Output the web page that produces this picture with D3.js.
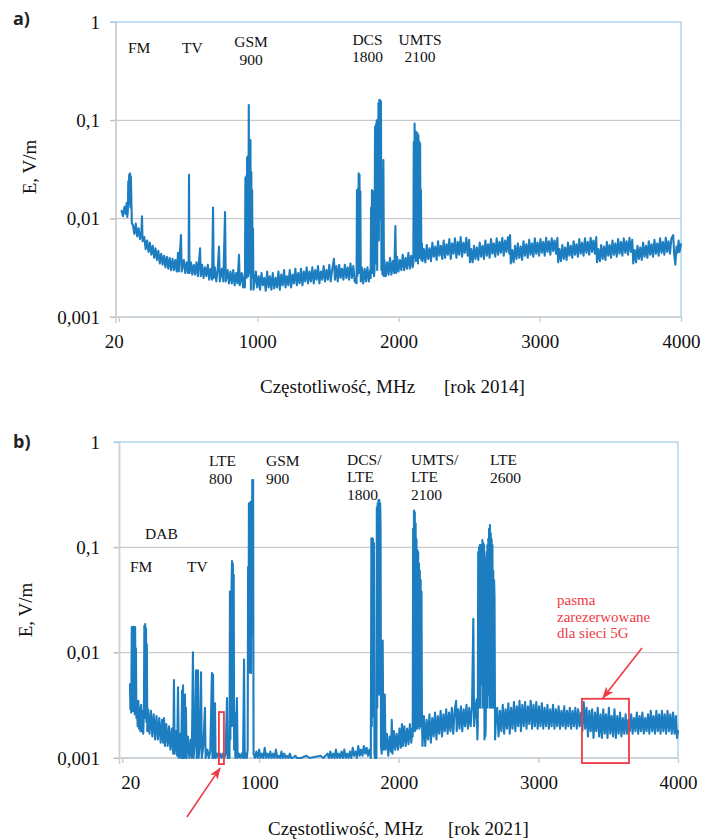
<!DOCTYPE html>
<html><head><meta charset="utf-8">
<script src="https://cdn.jsdelivr.net/npm/d3@7/dist/d3.min.js"></script>
<style>
body{margin:0;background:#fff;}
svg{display:block;}
</style></head><body>
<svg id="chart" width="712" height="840"></svg>
<script>
// ---------- data ----------
const xTicks = [20, 1000, 2000, 3000, 4000];
const yTicks = [0.001, 0.01, 0.1, 1];
const yTickLabels = ["0,001", "0,01", "0,1", "1"];
const xTitle = "Częstotliwość, MHz";
const yTitle = "E, V/m";
const yearLabels = ["[rok 2014]", "[rok 2021]"];
const panelLetters = ["a)", "b)"];
const bands2014 = [["FM"], ["TV"], ["GSM", "900"], ["DCS", "1800"], ["UMTS", "2100"]];
const bands2021 = [["FM"], ["DAB"], ["TV"], ["LTE", "800"], ["GSM", "900"], ["DCS/", "LTE", "1800"], ["UMTS/", "LTE", "2100"], ["LTE", "2600"]];
const note5G = ["pasma", "zarezerwowane", "dla sieci 5G"];
// annotation boxes: [f0, f1, E0, E1] (MHz, V/m)
const box5G = [3312, 3649, 0.000895, 0.00365];
const box700 = [712, 748, 0.000875, 0.00273];
// annotation arrows: [[f,E] start, [f,E] end]
const arrow5G = [[3742, 0.0111], [3462, 0.00371]];
const arrow700 = [[483, 0.000275], [720, 0.000802]];

// spectra: [frequency MHz, E in mV/m]
const spectrum2014 = [
[40,12.0],[50,10.6],[60,13.2],[70,11.2],[75,14.4],[80,10.4],[84,12],[87,24],[90,14],[93,28],[96,16],[99,29],[102,13],[105,27],[108,18],[112,9.0],
[120,8.6],[130,7.0],[140,8.9],[150,6.6],[160,8.0],[170,6.2],[180,7.5],[184,10.6],[188,5.9],
[200,6.5],[210,4.9],[220,6.0],[230,4.6],[240,5.7],[250,4.3],[260,5.3],[270,4.0],[280,5.0],[290,3.8],[300,4.7],[310,3.5],[320,4.4],[330,3.4],[340,4.2],[350,3.2],[360,4.1],[370,3.1],[380,4.0],[390,3.0],[400,3.9],[410,3.0],[420,3.8],[430,2.9],[439,4.5],[445,2.9],[460,6.8],[465,2.9],[480,3.8],[490,2.8],[500,3.6],[510,2.8],[514,3.5],[517,28],[520,2.8],[530,3.6],[540,2.7],[550,3.4],[560,2.7],[570,3.6],[580,2.6],[595,5.0],[600,2.6],[610,3.4],[620,2.5],[630,3.2],[640,2.6],[650,3.4],[660,2.4],[670,3.1],[680,2.4],[687,13],[692,2.5],[700,3.2],[710,2.3],[720,3.0],[729,5.2],[735,2.3],[750,3.1],[760,2.3],[772,11.7],[777,2.3],[790,3.0],[800,2.2],[810,2.9],[820,2.2],[830,3.0],[840,2.1],[850,2.8],[860,2.2],[871,4.3],[876,2.1],[890,2.8],[900,2.0],[910,2.7],
[913,2.0],[916,26],[919,3.0],[922,27],[925,2.5],[928,42],[931,3.5],[934,43],[937,2.6],[940,143],[943,4.0],[946,63],[949,2.8],[952,63],[955,1.9],[958,30],[961,3.0],[964,19.5],[967,2.5],[970,8],[973,1.9],
[980,2.2],[990,2.9],[1000,2.0],[1010,2.6],[1020,1.9],[1030,2.8],[1040,2.1],[1050,2.5],[1060,1.85],[1070,2.9],[1080,2.0],[1090,2.6],[1100,1.9],[1110,2.8],[1120,1.95],[1130,2.5],[1140,2.0],[1150,2.9],[1160,1.9],[1170,2.7],[1180,2.1],[1190,3.0],[1200,2.0],[1210,2.6],[1220,2.1],[1230,3.0],[1240,2.0],[1250,2.7],[1260,2.2],[1270,3.1],[1280,2.1],[1290,2.8],[1300,2.2],[1310,3.1],[1320,2.1],[1330,2.9],[1340,2.3],[1350,3.2],[1360,2.2],[1370,2.9],[1380,2.3],[1390,3.2],[1400,2.2],[1410,3.0],[1420,2.4],[1430,3.3],[1440,2.2],[1450,2.9],[1460,2.4],[1470,3.3],[1480,2.3],[1490,3.0],[1500,2.4],[1510,3.4],[1520,2.3],[1530,3.0],[1543,3.9],[1550,2.4],[1560,3.3],[1570,2.3],[1580,3.4],[1590,2.5],[1600,3.1],[1610,2.4],[1620,3.4],[1630,2.5],[1640,3.2],[1650,2.4],[1660,3.5],[1670,2.5],[1680,3.3],[1690,2.3],
[1703,2.2],[1706,19.5],[1709,2.6],[1712,20],[1715,3.0],[1718,29],[1721,2.8],[1724,28],[1727,3.5],[1730,19],[1733,2.3],
[1740,3.2],[1750,2.2],[1760,3.1],[1770,2.3],[1780,3.2],[1790,2.3],[1800,3.0],
[1803,2.5],[1806,13],[1809,3.0],[1812,19.5],[1815,2.8],[1818,19],[1821,4],[1824,12],[1827,2.6],[1830,3.0],
[1834,86],[1837,3.5],[1840,91],[1843,4.0],[1846,100],[1849,3.0],[1852,100],[1855,20],[1858,149],[1861,6],[1864,161],[1867,30],[1870,161],[1873,10],[1876,155],[1879,3.0],[1882,20],[1886,2.7],[1893,39.5],[1897,2.6],
[1900,3.8],[1910,2.6],[1920,3.6],[1930,2.7],[1940,4.0],[1950,2.7],[1960,3.7],[1970,2.8],[1978,8.4],[1983,2.8],[1990,4.1],[2000,2.9],[2010,3.8],[2020,3.0],[2030,4.3],[2040,3.0],[2050,4.0],[2060,3.1],[2070,4.5],[2080,3.1],[2090,4.2],[2100,3.2],
[2105,3.5],[2108,60],[2111,4],[2114,93],[2117,5],[2120,78],[2123,3.7],[2126,31],[2129,75],[2132,4],[2135,74],[2138,3.5],[2141,70],[2144,6],[2147,61],[2150,4],[2153,58],[2156,5],[2159,19.5],[2162,3.8],[2166,5.6],[2170,3.7],
[2180,4.9],[2190,3.6],[2200,5.4],[2210,3.9],[2220,5.0],[2230,3.7],[2240,5.7],[2250,4.1],[2260,5.2],[2270,3.8],[2280,5.9],[2290,4.2],[2300,5.3],[2310,3.9],[2320,6.0],[2330,4.0],[2340,5.5],[2350,4.3],[2360,6.2],[2370,3.9],[2380,5.6],[2390,4.4],[2400,6.3],[2410,4.0],[2420,5.8],[2430,4.3],[2440,6.5],[2450,4.1],[2460,5.7],[2470,4.5],[2480,6.4],[2490,4.2],[2500,6.1],
[2506,3.6],[2515,4.9],[2525,3.6],[2535,5.3],[2545,3.9],[2555,5.1],[2565,3.8],[2575,5.7],[2585,4.1],[2595,5.3],[2605,3.9],[2615,6.0],[2625,4.2],[2635,5.5],[2645,4.0],[2655,6.2],[2665,4.4],[2675,5.6],[2685,4.1],[2695,6.3],[2705,4.3],[2715,5.8],[2725,4.5],[2735,6.4],[2745,4.2],[2755,6.0],[2765,4.6],[2775,6.5],[2785,4.4],[2790,6.8],
[2795,3.5],[2805,4.8],[2815,3.6],[2825,5.3],[2835,3.9],[2845,5.6],[2855,4.0],[2865,5.2],[2875,3.8],[2885,5.9],[2895,4.2],[2905,5.5],[2915,4.0],[2925,6.1],[2935,4.3],[2945,5.6],[2955,4.1],[2965,6.3],[2975,4.4],[2985,5.7],[2995,4.2],[3005,6.2],[3015,4.5],[3025,5.8],[3035,4.2],[3045,6.4],[3055,4.6],[3065,5.9],[3075,4.3],[3085,6.3],[3095,4.7],[3105,6.0],[3115,4.4],[3125,6.4],
[3130,3.6],[3140,4.9],[3150,3.7],[3160,5.4],[3170,3.9],[3180,5.1],[3190,3.8],[3200,5.7],[3210,4.2],[3220,5.3],[3230,4.0],[3240,5.9],[3250,4.3],[3260,5.5],[3270,4.1],[3280,6.2],[3290,4.4],[3300,5.7],[3310,4.2],[3320,6.3],[3330,4.5],[3340,5.8],[3350,4.3],[3360,6.4],[3370,4.6],[3380,6.0],[3390,4.4],[3400,6.5],
[3405,3.6],[3415,4.9],[3425,3.7],[3435,5.4],[3445,3.9],[3455,5.2],[3465,3.8],[3475,5.8],[3485,4.2],[3495,5.4],[3505,4.0],[3515,6.0],[3525,4.3],[3535,5.6],[3545,4.1],[3555,6.2],[3565,4.4],[3575,5.8],[3585,4.2],[3595,6.3],[3605,4.5],[3615,5.9],[3625,4.3],[3635,6.4],[3645,4.6],[3655,6.1],
[3662,3.5],[3672,4.8],[3682,3.6],[3692,5.3],[3702,3.9],[3712,5.1],[3722,3.8],[3732,5.7],[3742,4.1],[3752,5.3],[3762,4.0],[3772,5.9],[3782,4.3],[3792,5.5],[3802,4.1],[3812,6.1],[3822,4.4],[3832,5.6],[3842,4.2],[3852,6.3],[3862,4.5],[3872,5.8],[3882,4.3],[3892,6.4],[3902,4.6],[3912,5.9],[3922,4.4],[3932,6.3],[3945,6.8],[3952,4.3],[3960,3.4],[3968,5.2],[3975,4.5],[3983,6.0],[3990,4.6],[4000,5.5]
];

const spectrum2021 = [
[75,5.0],[78,2.9],[81,4.2],[84,2.7],
[88,17.5],[91,3.0],[94,17.5],[97,2.8],[100,17.6],[103,3.2],[106,17.4],[109,2.6],[112,17.5],[115,3.5],[118,11],[121,2.4],
[125,3.3],[130,2.0],[135,3.5],[140,1.9],[145,3.0],[150,1.8],[155,3.2],[160,1.8],[165,2.8],[170,1.7],
[175,2.8],[178,18],[181,2.5],[184,18.7],[187,2.4],[190,17],[193,2.2],[196,12],[199,1.8],
[205,2.9],[215,1.7],[225,2.8],[235,1.6],[245,2.6],[255,1.5],[265,2.5],[275,1.5],[285,2.4],[295,1.4],[305,2.3],[313,1.4],[319,2.4],[325,1.3],[335,2.1],[345,1.3],[355,2.0],[365,1.2],[375,1.9],[385,1.1],
[390,5.5],[395,1.1],[405,1.8],[413,1.05],[419,4.7],[425,1.0],[435,1.7],[442,1.0],[448,4.4],[452,1.0],[455,4.9],[460,1.0],[469,4.0],[472,1.0],[476,3.0],[480,1.0],[490,1.6],[500,1.0],[510,1.5],[518,1.0],[526,10.1],[531,1.0],[540,1.5],[548,6.8],[553,1.0],[562,6.8],[567,1.0],[576,1.4],[584,6.5],[589,1.0],[600,1.3],[612,3.0],[617,1.0],[630,1.2],[640,1.0],[650,1.15],[662,6.4],[666,1.0],[670,6.2],[674,1.0],[684,3.3],[688,1.0],[700,1.1],[710,1.0],[720,1.1],[730,1.0],[740,1.1],[750,1.0],[760,1.1],[770,3.7],[775,1.0],
[788,1.0],[791,38],[794,1.5],[797,38],[800,2.0],[803,45],[806,74],[809,3],[812,70],[815,2],[818,55],[821,1.2],[825,2.7],[830,1.0],[841,3.7],[846,1.0],[855,1.1],[865,1.0],[875,1.1],[885,1.0],[892,8.6],[897,1.0],[905,1.1],[912,1.0],
[918,1.2],[921,65],[924,6.4],[927,262],[930,6.5],[933,262],[936,20],[939,270],[942,6.4],[945,270],[948,15],[951,435],[954,40],[957,435],[960,1.1],
[970,1.0],[980,1.15],[990,1.0],[1000,1.2],[1010,1.0],[1020,1.1],[1030,1.0],[1040,1.25],[1050,1.0],[1060,1.1],[1070,1.0],[1080,1.15],[1090,1.0],[1100,1.1],[1110,1.0],[1120,1.2],[1130,1.0],[1140,1.05],[1150,1.0],[1160,1.15],[1170,1.0],[1180,1.1],[1190,1.0],[1200,1.05],[1210,1.0],[1220,1.1],[1230,1.0],[1240,1.0],[1260,1.05],[1270,1.0],[1300,1.0],[1340,1.05],[1360,1.0],[1440,1.05],[1460,1.0],[1490,1.1],[1500,1.0],[1510,1.15],[1520,1.0],[1530,1.1],[1540,1.0],[1550,1.2],[1560,1.0],[1570,1.1],[1580,1.0],[1590,1.15],[1600,1.0],[1610,1.2],[1620,1.0],[1630,1.1],[1640,1.0],[1650,1.15],[1660,1.0],[1670,1.25],[1680,1.05],[1690,1.15],[1700,1.0],[1710,1.3],[1720,1.05],[1730,1.2],[1740,1.05],[1750,1.3],[1760,1.1],[1770,1.25],[1780,1.05],[1790,1.2],[1795,1.1],[1800,1.0],
[1804,122],[1807,2],[1810,122],[1813,3],[1816,120],[1819,2.5],[1822,110],[1826,1.1],[1830,1.0],[1835,1.3],[1840,1.0],
[1843,240],[1846,3],[1849,262],[1852,5],[1855,281],[1858,4],[1861,281],[1864,8],[1867,262],[1870,150],[1873,1.3],[1878,1.1],[1885,13],[1890,1.2],[1900,4.0],[1905,1.2],
[1915,1.7],[1925,1.05],[1935,1.6],[1945,1.15],[1950,2.3],[1955,1.1],[1965,1.8],[1975,1.2],[1985,1.7],[1995,1.2],[2005,1.9],[2015,1.25],[2023,2.1],[2030,1.3],[2040,2.0],[2050,1.3],[2060,1.9],[2070,1.35],[2080,2.1],[2090,1.4],[2097,1.9],
[2100,1.6],[2103,150],[2106,1.8],[2109,223],[2112,2.0],[2115,215],[2118,1.8],[2121,169],[2124,2.2],[2127,120],[2130,1.9],[2133,94],[2136,2.0],[2139,90],[2142,2.1],[2145,70],[2148,1.9],[2151,60],[2154,2.2],[2157,49],[2160,2.0],[2163,38],[2166,2.6],[2170,1.3],
[2180,2.5],[2190,1.3],[2200,2.3],[2210,1.5],[2220,2.6],[2230,1.4],[2240,2.4],[2250,1.6],[2260,2.7],[2270,1.5],[2280,2.5],[2290,1.7],[2300,2.8],[2310,1.6],[2320,2.6],[2330,1.8],[2340,2.9],[2350,1.7],[2360,2.7],[2370,1.8],[2380,3.0],[2390,1.7],[2400,2.8],[2411,3.5],[2415,1.8],[2425,2.9],[2435,1.9],[2445,3.1],[2455,1.8],[2465,2.9],[2475,2.0],[2485,3.2],[2495,1.9],[2505,3.0],[2515,2.0],[2525,3.1],[2534,21],[2540,2.0],[2550,3.0],[2558,3.6],[2563,1.5],
[2566,2.0],[2569,90],[2572,3],[2575,100],[2578,4],[2581,105],[2584,3],[2587,105],[2590,17.6],[2593,105],[2596,5],[2599,117],[2602,3],[2605,110],[2608,4],[2611,105],[2614,1.5],[2617,80],[2620,1.6],[2623,2.0],
[2629,90],[2632,3],[2635,105],[2638,4],[2641,120],[2644,5],[2647,150],[2650,3],[2653,163],[2656,4],[2659,136],[2662,3],[2665,120],[2668,4],[2671,105],[2674,3],[2677,60],[2680,3],[2683,49],[2686,33],[2690,1.5],[2695,2.2],
[2705,3.0],[2715,1.6],[2725,2.8],[2735,1.8],[2745,3.2],[2755,1.7],[2765,2.9],[2775,1.9],[2785,3.3],[2795,1.7],[2805,3.0],[2815,1.9],[2825,3.4],[2835,1.8],[2845,3.1],[2855,2.0],[2865,3.5],[2875,1.8],[2885,3.2],[2895,2.0],[2905,3.4],[2915,1.9],[2925,3.1],[2935,2.1],[2945,3.5],[2955,1.9],[2965,3.2],[2975,2.0],[2985,3.4],[2995,1.9],[3005,3.1],[3015,2.0],[3025,3.3],[3035,1.9],[3045,3.0],[3055,2.0],[3065,3.2],[3075,1.9],[3085,2.9],[3095,2.0],[3105,3.2],[3115,1.9],[3125,2.9],[3135,2.0],[3145,3.1],[3155,1.9],[3165,2.8],[3175,2.0],[3185,3.1],[3195,1.9],[3205,2.8],[3215,2.0],[3225,3.0],[3235,1.9],[3245,2.8],[3255,2.0],[3265,3.0],[3275,1.9],[3285,2.9],[3295,2.0],
[3305,2.7],[3315,1.8],[3325,3.4],[3335,1.9],[3345,3.0],[3355,1.6],[3365,2.8],[3375,1.8],[3385,2.9],[3395,1.55],[3405,2.7],[3415,1.8],[3425,3.0],[3435,1.6],[3445,2.6],[3455,1.55],[3465,2.9],[3475,1.7],[3485,2.6],[3495,1.55],[3505,3.0],[3515,1.7],[3525,2.5],[3535,1.6],[3545,2.9],[3555,1.55],[3565,2.5],[3575,1.7],[3585,2.7],[3595,1.6],[3605,2.4],[3615,1.7],[3625,2.6],[3635,1.7],[3645,2.3],[3655,1.8],
[3665,2.6],[3675,1.7],[3685,2.4],[3695,1.8],[3705,2.7],[3715,1.7],[3725,2.5],[3735,1.8],[3745,2.7],[3755,1.7],[3765,2.4],[3775,1.8],[3785,2.6],[3795,1.7],[3805,2.8],[3815,1.8],[3825,2.5],[3835,1.7],[3845,2.8],[3855,1.8],[3865,2.6],[3875,1.7],[3885,2.8],[3895,1.8],[3905,2.6],[3915,1.7],[3925,2.8],[3935,1.8],[3945,2.6],[3955,1.7],[3965,2.7],[3975,1.7],[3985,2.5],[3993,1.55],[4000,1.8]
];

// ---------- layout & style ----------
const SERIF = "'Liberation Serif','Times New Roman',serif";
const LINE = "#1c7ec0";
const RED = "#ee3b45";
const GRID = "#bfbfbf";
const AXIS = "#d0d0d0";
const BORDER = "#9ccbe8";

const panels = [
  { left:116, right:681, top:22, bottom:317, data:spectrum2014, year:yearLabels[0], letter:panelLetters[0],
    letterY:25, titleX:260, yearX:444, titleY:393, yTitleX:36, yTitleY:167, firstDx:-5,
    bands:bands2014,
    bandPos:[{x:128,y:53,a:"start"},{x:182,y:53,a:"start"},{x:251,y:47,a:"middle"},{x:367.5,y:44.5,a:"middle"},{x:420,y:44.5,a:"middle"}],
    lh:17.5 },
  { left:119.5, right:678, top:442, bottom:758, data:spectrum2021, year:yearLabels[1], letter:panelLetters[1],
    letterY:448, titleX:268, yearX:448, titleY:835, yTitleX:32, yTitleY:610, firstDx:8,
    bands:bands2021,
    bandPos:[{x:130,y:572,a:"start"},{x:145,y:539,a:"start"},{x:187,y:572,a:"start"},{x:209,y:466,a:"start"},{x:266,y:466,a:"start"},{x:347,y:464.5,a:"start"},{x:411,y:464.5,a:"start"},{x:490,y:465,a:"start"}],
    lh:17.8 }
];

const svg = d3.select("#chart");
svg.append("rect").attr("width",712).attr("height",840).attr("fill","#fff");

const defs = svg.append("defs");
defs.append("marker").attr("id","arrowRed")
  .attr("markerUnits","userSpaceOnUse").attr("markerWidth",12).attr("markerHeight",9)
  .attr("refX",11).attr("refY",4.5).attr("orient","auto")
  .append("path").attr("d","M0,0 L12,4.5 L0,9 L3,4.5 Z").attr("fill",RED);

panels.forEach((p, idx) => {
  const x = d3.scaleLinear().domain([0,4000]).range([p.left,p.right]);
  const y = d3.scaleLog().domain([0.001,1]).range([p.bottom,p.top]);
  const g = svg.append("g");

  // gridlines
  g.selectAll("line.grid").data(yTicks.filter(v => v > 0.001 && v < 1)).join("line")
    .attr("x1",p.left-6).attr("x2",p.right).attr("y1",d=>y(d)).attr("y2",d=>y(d))
    .attr("stroke",GRID).attr("stroke-width",1);
  // plot border (top & right light blue)
  g.append("rect").attr("x",p.left).attr("y",p.top).attr("width",p.right-p.left).attr("height",p.bottom-p.top)
    .attr("fill","none").attr("stroke",BORDER).attr("stroke-width",1.2);
  g.append("line").attr("x1",p.left-6).attr("x2",p.left).attr("y1",y(1)).attr("y2",y(1))
    .attr("stroke",BORDER).attr("stroke-width",1.2);

  // x axis
  const xAxis = d3.axisBottom(x).tickValues(xTicks).tickSize(5).tickPadding(12.5).tickFormat(d3.format("d"));
  const gx = g.append("g").attr("transform",`translate(0,${p.bottom})`).call(xAxis);
  gx.select(".domain").remove();
  gx.selectAll(".tick line").attr("stroke",AXIS).attr("stroke-width",1.5);
  gx.selectAll(".tick text").attr("font-family",SERIF).attr("font-size",19).attr("fill","#111")
    .attr("dx",(d,i)=> i===0 ? p.firstDx : 0);
  g.append("line").attr("x1",p.left-6).attr("x2",p.right).attr("y1",p.bottom).attr("y2",p.bottom)
    .attr("stroke",AXIS).attr("stroke-width",1.6);

  // y axis
  const yAxis = d3.axisLeft(y).tickValues(yTicks).tickSize(6).tickPadding(p.left-106)
    .tickFormat((d,i)=>yTickLabels[i]);
  const gy = g.append("g").attr("transform",`translate(${p.left},0)`).call(yAxis);
  gy.select(".domain").remove();
  gy.selectAll(".tick line").attr("stroke",(d)=> d===1 ? BORDER : GRID).attr("stroke-width",1);
  gy.selectAll(".tick text").attr("font-family",SERIF).attr("font-size",19).attr("fill","#111");
  g.append("line").attr("x1",p.left).attr("x2",p.left).attr("y1",p.top).attr("y2",p.bottom+6)
    .attr("stroke",AXIS).attr("stroke-width",1.6);

  // spectrum line
  const line = d3.line().x(d=>x(d[0])).y(d=>y(d[1]/1000));
  g.append("path").datum(p.data).attr("d",line)
    .attr("fill","none").attr("stroke",LINE).attr("stroke-width",2.1)
    .attr("stroke-linejoin","round").attr("stroke-linecap","round");

  // band labels
  p.bands.forEach((lines,i) => {
    const pos = p.bandPos[i];
    const t = g.append("text").attr("font-family",SERIF).attr("font-size",15.5).attr("fill","#111")
      .attr("text-anchor",pos.a);
    lines.forEach((s,k) => t.append("tspan").attr("x",pos.x).attr("y",pos.y + k*p.lh).text(s));
  });

  // titles
  g.append("text").attr("x",p.titleX).attr("y",p.titleY).attr("font-family",SERIF).attr("font-size",19)
    .attr("fill","#111").text(xTitle);
  g.append("text").attr("x",p.yearX).attr("y",p.titleY).attr("font-family",SERIF).attr("font-size",19)
    .attr("fill","#111").text(p.year);
  g.append("text").attr("transform",`translate(${p.yTitleX},${p.yTitleY}) rotate(-90)`)
    .attr("text-anchor","middle").attr("font-family",SERIF).attr("font-size",19).attr("fill","#111").text(yTitle);
  g.append("text").attr("x",13).attr("y",p.letterY).attr("font-family","'Open Sans','DejaVu Sans',sans-serif")
    .attr("font-weight","bold").attr("font-size",18).attr("fill","#222").text(p.letter);

  if (idx === 1) {
    // red boxes
    [box5G, box700].forEach(b => {
      g.append("rect").attr("x",x(b[0])).attr("y",y(b[3])).attr("width",x(b[1])-x(b[0])).attr("height",y(b[2])-y(b[3]))
        .attr("fill","none").attr("stroke",RED).attr("stroke-width",1.8);
    });
    [arrow5G, arrow700].forEach(a => {
      g.append("line").attr("x1",x(a[0][0])).attr("y1",y(a[0][1])).attr("x2",x(a[1][0])).attr("y2",y(a[1][1]))
        .attr("stroke",RED).attr("stroke-width",1.6).attr("marker-end","url(#arrowRed)");
    });
    const t = g.append("text").attr("font-family",SERIF).attr("font-size",15).attr("fill",RED);
    note5G.forEach((s,k) => t.append("tspan").attr("x",557).attr("y",605 + k*16.5).text(s));
  }
});
</script>
</body></html>
